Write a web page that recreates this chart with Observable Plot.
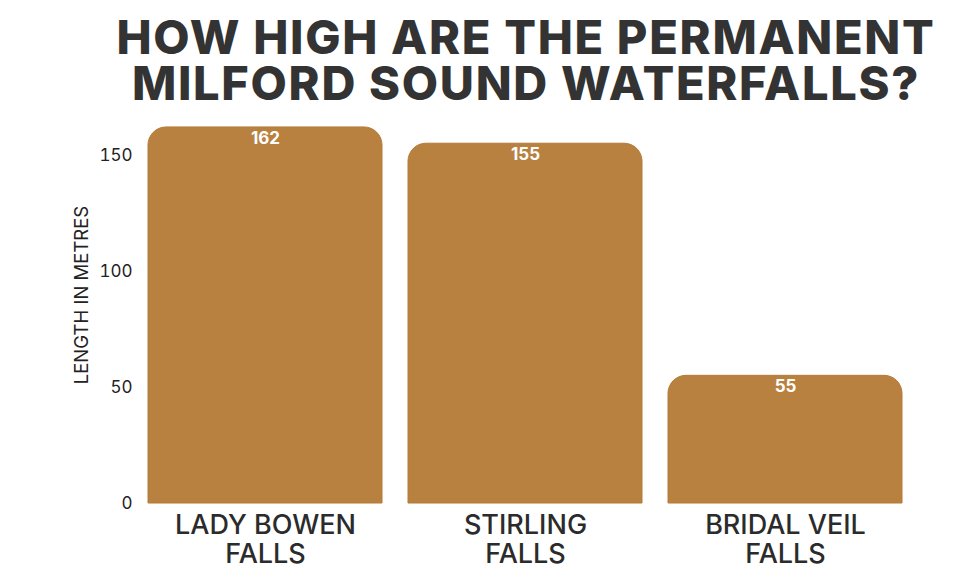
<!DOCTYPE html>
<html>
<head>
<meta charset="utf-8">
<script src="https://cdn.jsdelivr.net/npm/d3@7"></script>
<script src="https://cdn.jsdelivr.net/npm/@observablehq/plot@0.6"></script>
<style>
  body { margin: 0; background: #fff; }
  #title { height: 115px; box-sizing: border-box; padding-top: 14px; padding-left: 72px; text-align: center;
    font-family: Inter, "Open Sans", sans-serif; font-weight: 800; font-size: 47px; line-height: 46px; color: #333; letter-spacing: 1.7px; }
</style>
</head>
<body>
<div id="title">HOW HIGH ARE THE PERMANENT<br>MILFORD SOUND WATERFALLS?</div>
<div id="chart"></div>
<script>
const falls = ["LADY BOWEN FALLS", "STIRLING FALLS", "BRIDAL VEIL FALLS"];
const tickLabels = ["LADY BOWEN\nFALLS", "STIRLING\nFALLS", "BRIDAL VEIL\nFALLS"];
const heights = [162, 155, 55];
const yTicks = [0, 50, 100, 150];
const yLabel = "LENGTH IN METRES";

const data = falls.map((name, i) => ({name, height: heights[i]}));
const barColor = "#b9813f";

const chart = Plot.plot({
  width: 980,
  height: 473,
  marginLeft: 134,
  marginRight: 64,
  marginTop: 5,
  marginBottom: 85,
  style: {fontFamily: "Inter, sans-serif", color: "#222", background: "#fff"},
  x: {domain: falls, paddingInner: 0.1, paddingOuter: 0.05, label: null},
  y: {domain: [0, 165], label: null},
  marks: [
    Plot.barY(data, {x: "name", y: "height", fill: barColor, stroke: "#b57a38", strokeWidth: 1, ry1: 18}),
    Plot.text(data, {x: "name", y: "height", text: d => String(d.height), fill: "#fff", fontSize: 17, fontWeight: 700, lineAnchor: "top", dy: 4}),
    Plot.axisY({ticks: yTicks, tickSize: 0, tickPadding: 2, fontSize: 17, label: null}),
    Plot.text([yLabel], {frameAnchor: "left", textAnchor: "middle", text: d => d, rotate: -90, dx: -52, dy: -17, fontSize: 18.5, fill: "#222"}),
    Plot.axisX({tickSize: 0, tickPadding: 11, fontSize: 27, fontWeight: 500, lineHeight: 1.04, tickFormat: d => tickLabels[falls.indexOf(d)], fill: "#2b2b2b", label: null})
  ]
});
document.getElementById("chart").appendChild(chart);
</script>
</body>
</html>
